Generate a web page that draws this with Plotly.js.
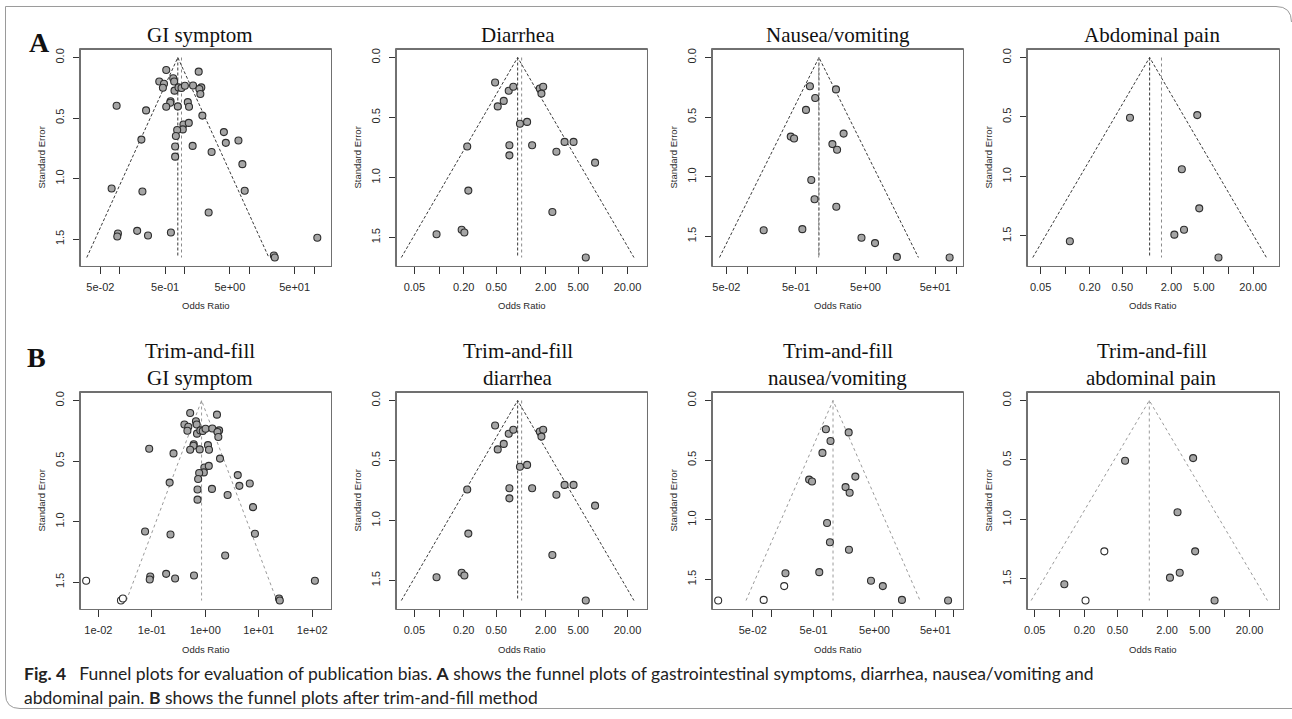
<!DOCTYPE html>
<html><head><meta charset="utf-8">
<script src="https://cdn.plot.ly/plotly-3.0.1.min.js"></script>
<style>html,body{margin:0;padding:0;background:#fff}#chart{width:1292px;height:719px}</style>
</head><body><div id="chart"></div>
<script>
// ---------------- data ----------------
const giOR = [0.520,1.65,0.667,0.690,0.406,0.480,0.462,0.698,0.805,0.895,1.01,1.35,1.81,1.69,1.75,0.607,0.600,0.520,0.785,1.12,1.17,0.0891,0.254,1.88,0.959,1.16,0.937,0.767,0.733,0.215,4.04,4.33,6.78,0.714,1.33,0.714,2.61,7.80,0.0746,0.223,8.47,2.35,0.0933,0.0912,0.185,0.272,0.614,112,23.9,24.7];
const giSE = [0.103,0.117,0.171,0.198,0.198,0.217,0.250,0.274,0.247,0.252,0.233,0.231,0.247,0.260,0.301,0.361,0.374,0.407,0.404,0.369,0.407,0.399,0.437,0.480,0.553,0.540,0.594,0.599,0.648,0.678,0.616,0.705,0.686,0.735,0.730,0.819,0.781,0.881,1.082,1.107,1.101,1.280,1.454,1.478,1.432,1.470,1.446,1.489,1.635,1.652];
const giFillOR = [0.0059,0.0264,0.0287];
const giFillSE = [1.489,1.652,1.635];

const diarOR = [0.484,0.710,0.807,0.617,0.521,1.70,1.87,1.78,0.973,1.19,0.723,0.723,1.37,3.41,4.39,2.71,8.04,0.221,0.228,2.42,0.0933,0.189,0.204,6.19];
const diarSE = [0.208,0.277,0.244,0.362,0.408,0.258,0.244,0.301,0.553,0.537,0.732,0.816,0.732,0.704,0.704,0.786,0.877,0.742,1.110,1.288,1.474,1.436,1.460,1.668];

const nauOR = [0.794,1.88,0.946,0.697,0.421,0.470,2.42,1.67,1.95,0.830,0.925,1.90,0.172,0.618,4.37,6.84,14.1,80.7];
const nauSE = [0.241,0.268,0.340,0.440,0.664,0.680,0.639,0.727,0.774,1.029,1.190,1.253,1.450,1.441,1.513,1.558,1.674,1.679];
const nauFillOR = [0.0135,0.0755,0.164];
const nauFillSE = [1.679,1.674,1.558];

const abdOR = [0.621,4.14,2.68,4.38,2.85,2.17,0.114,7.53];
const abdSE = [0.506,0.484,0.939,1.268,1.448,1.489,1.545,1.681];
const abdFillOR = [0.348,0.206];
const abdFillSE = [1.268,1.681];

// pooled estimates (fixed / random / trim-and-fill) and largest SE
const giEst   = {fixed:0.785, random:0.895, tf:0.85, seMax:1.652};
const diarEst = {fixed:0.912, random:1.02, seMax:1.668};
const nauEst  = {fixed:1.07, random:1.06, tf:1.04, seMax:1.679};
const abdEst  = {fixed:1.08, random:1.51, tf:1.22, seMax:1.681};

// tick labels
const ticksExp5 = [0.05,0.1,0.5,1,5,10,50,100];
const textExp5  = ['5e-02','','5e-01','','5e+00','','5e+01',''];
const ticksDec  = [0.05,0.1,0.2,0.5,1,2,5,10,20];
const textDec   = ['0.05','','0.20','0.50','','2.00','5.00','','20.00'];
const ticksPow  = [0.01,0.1,1,10,100];
const textPow   = ['1e-02','1e-01','1e+00','1e+01','1e+02'];
const seTicks   = [0,0.5,1,1.5];
const seText    = ['0.0','0.5','1.0','1.5'];

const titlesA = ['GI symptom','Diarrhea','Nausea/vomiting','Abdominal pain'];
const titlesB = ['GI symptom','diarrhea','nausea/vomiting','abdominal pain'];

// ---------------- layout geometry ----------------
const W = 1292, H = 719;
const colL = [79.5, 395.5, 711.5, 1026.5];
const colR = [331.5, 647.5, 963.5, 1279.5];
const rowT = [48.5, 391.5];
const rowB = [266.5, 609.5];
const titleX = [200, 517.5, 837.5, 1151.5];

const panels = [
  {col:0,row:0,title:[titlesA[0]],or:giOR,se:giSE,fo:[],fs:[],est:giEst,mode:'two',xr:[-1.608,2.253],tv:ticksExp5,tt:textExp5},
  {col:1,row:0,title:[titlesA[1]],or:diarOR,se:diarSE,fo:[],fs:[],est:diarEst,mode:'two',xr:[-1.519,1.533],tv:ticksDec,tt:textDec},
  {col:2,row:0,title:[titlesA[2]],or:nauOR,se:nauSE,fo:[],fs:[],est:nauEst,mode:'two',xr:[-1.500,2.092],tv:ticksExp5,tt:textExp5},
  {col:3,row:0,title:[titlesA[3]],or:abdOR,se:abdSE,fo:[],fs:[],est:abdEst,mode:'two',xr:[-1.462,1.612],tv:ticksDec,tt:textDec},
  {col:0,row:1,title:['Trim-and-fill',titlesB[0]],or:giOR,se:giSE,fo:giFillOR,fs:giFillSE,est:giEst,mode:'tf',xr:[-2.335,2.341],tv:ticksPow,tt:textPow},
  {col:1,row:1,title:['Trim-and-fill',titlesB[1]],or:diarOR,se:diarSE,fo:[],fs:[],est:diarEst,mode:'two',xr:[-1.519,1.533],tv:ticksDec,tt:textDec},
  {col:2,row:1,title:['Trim-and-fill',titlesB[2]],or:nauOR,se:nauSE,fo:nauFillOR,fs:nauFillSE,est:nauEst,mode:'tf',xr:[-1.963,2.144],tv:ticksExp5,tt:textExp5},
  {col:3,row:1,title:['Trim-and-fill',titlesB[3]],or:abdOR,se:abdSE,fo:abdFillOR,fs:abdFillSE,est:abdEst,mode:'tf',xr:[-1.389,1.651],tv:ticksDec,tt:textDec}
];

const px = x => x / W;
const py = y => 1 - y / H;
const P = (x, y) => px(x).toFixed(5) + ',' + py(y).toFixed(5);

const traces = [];
const layout = {
  width: W, height: H,
  margin: {l:0, r:0, t:0, b:0},
  paper_bgcolor: '#ffffff', plot_bgcolor: 'rgba(0,0,0,0)',
  showlegend: false,
  shapes: [], annotations: []
};

const darkLine = '#3a3a3a', lightLine = '#9a9a9a';

panels.forEach((p, i) => {
  const n = i + 1;
  const xa = 'x' + (n === 1 ? '' : n), ya = 'y' + (n === 1 ? '' : n);
  const L = colL[p.col], R = colR[p.col], T = rowT[p.row], B = rowB[p.row];
  const m = p.est.seMax;

  const common = {
    ticks: 'outside', ticklen: 7, tickwidth: 1, tickcolor: '#333',
    showline: true, mirror: true, linecolor: '#707070', linewidth: 1,
    showgrid: false, zeroline: false,
    tickfont: {family: 'Liberation Sans, Arial, sans-serif', size: 11, color: '#2a2a2a'},
    fixedrange: true
  };
  layout['xaxis' + (n === 1 ? '' : n)] = Object.assign({
    type: 'log', domain: [px(L + 1), px(R - 1)], range: p.xr, anchor: ya,
    tickmode: 'array', tickvals: p.tv, ticktext: p.tt, ticklabelstandoff: 4
  }, common);
  layout['yaxis' + (n === 1 ? '' : n)] = Object.assign({
    domain: [py(B - 1), py(T + 1)], range: [1.04 * m, -0.04 * m], anchor: xa,
    tickmode: 'array', tickvals: seTicks, ticktext: seText, tickangle: -90, ticklabelstandoff: 4
  }, common);

  // plot frame drawn just outside the plotting area, on top of everything
  layout.shapes.push({type:'path', xref:'paper', yref:'paper', layer:'above',
    path:'M' + P(L, T) + ' L' + P(R, T) + ' L' + P(R, B) + ' L' + P(L, B) + ' Z',
    line:{color:'#707070', width:1}});

  // funnel + reference lines
  const c = p.mode === 'tf' ? p.est.tf : p.est.fixed;
  const k = Math.exp(1.96 * m);
  const fColor = p.mode === 'tf' ? lightLine : darkLine;
  traces.push({type:'scatter', mode:'lines', xaxis:xa, yaxis:ya, hoverinfo:'skip',
    x:[c / k, c, c * k], y:[m, 0, m],
    line:{color:fColor, width:1, dash: p.mode === 'tf' ? 'dot' : '3px,2px'}});
  if (p.mode === 'tf') {
    traces.push({type:'scatter', mode:'lines', xaxis:xa, yaxis:ya, hoverinfo:'skip',
      x:[p.est.tf, p.est.tf], y:[0, m], line:{color:lightLine, width:1, dash:'dot'}});
  } else {
    traces.push({type:'scatter', mode:'lines', xaxis:xa, yaxis:ya, hoverinfo:'skip',
      x:[p.est.fixed, p.est.fixed], y:[0, m], line:{color:darkLine, width:1, dash:'3px,2px'}});
    traces.push({type:'scatter', mode:'lines', xaxis:xa, yaxis:ya, hoverinfo:'skip',
      x:[p.est.random, p.est.random], y:[0, m], line:{color:'#8a8a8a', width:1, dash:'dot'}});
  }
  // studies
  traces.push({type:'scatter', mode:'markers', xaxis:xa, yaxis:ya,
    x:p.or, y:p.se,
    marker:{symbol:'circle', size:7, color:'#a5a5a5', line:{color:'#2e2e2e', width:1.1}}});
  if (p.fo.length) {
    traces.push({type:'scatter', mode:'markers', xaxis:xa, yaxis:ya,
      x:p.fo, y:p.fs,
      marker:{symbol:'circle', size:7, color:'#ffffff', line:{color:'#2e2e2e', width:1.1}}});
  }

  // titles
  const tFont = {family:'Liberation Serif, Times New Roman, serif', size:21, color:'#111'};
  if (p.title.length === 1) {
    layout.annotations.push({xref:'paper', yref:'paper', x:px(titleX[p.col]), y:py(34.5),
      xanchor:'center', yanchor:'middle', showarrow:false, text:p.title[0], font:tFont});
  } else {
    layout.annotations.push({xref:'paper', yref:'paper', x:px(titleX[p.col]), y:py(351),
      xanchor:'center', yanchor:'middle', showarrow:false, text:p.title[0], font:tFont});
    layout.annotations.push({xref:'paper', yref:'paper', x:px(titleX[p.col]), y:py(378),
      xanchor:'center', yanchor:'middle', showarrow:false, text:p.title[1], font:tFont});
  }
  // axis titles
  const smallFont = {family:'Liberation Sans, Arial, sans-serif', size:9.5, color:'#2a2a2a'};
  layout.annotations.push({xref:'paper', yref:'paper', x:px(L - 38.5), y:py((T + B) / 2),
    xanchor:'center', yanchor:'middle', showarrow:false, textangle:-90, text:'Standard Error', font:smallFont});
  layout.annotations.push({xref:'paper', yref:'paper', x:px((L + R) / 2), y:py(B + 39.5),
    xanchor:'center', yanchor:'middle', showarrow:false, text:'Odds Ratio', font:smallFont});
});

// panel letters
const letterFont = {family:'Liberation Serif, Times New Roman, serif', size:28, color:'#111'};
layout.annotations.push({xref:'paper', yref:'paper', x:px(39), y:py(42.5), xanchor:'center', yanchor:'middle',
  showarrow:false, text:'<b>A</b>', font:letterFont});
layout.annotations.push({xref:'paper', yref:'paper', x:px(36.5), y:py(357.5), xanchor:'center', yanchor:'middle',
  showarrow:false, text:'<b>B</b>', font:letterFont});

// caption
const capFont = {family:'Lato, Open Sans, sans-serif', size:17.5, color:'#222'};
layout.annotations.push({xref:'paper', yref:'paper', x:px(22), y:py(673), xanchor:'left', yanchor:'middle',
  showarrow:false, font:capFont,
  text:'<b>Fig. 4</b>\u2002 Funnel plots for evaluation of publication bias. <b>A</b> shows the funnel plots of gastrointestinal symptoms, diarrhea, nausea/vomiting and'});
layout.annotations.push({xref:'paper', yref:'paper', x:px(22), y:py(697), xanchor:'left', yanchor:'middle',
  showarrow:false, font:capFont,
  text:'abdominal pain. <b>B</b> shows the funnel plots after trim-and-fill method'});

// outer figure border (rounded top-right and bottom-left corners)
layout.shapes.push({type:'path', xref:'paper', yref:'paper', layer:'below',
  path:'M' + P(1291.5, 22) + ' Q' + P(1291.5, 6.5) + ' ' + P(1276, 6.5) + ' L' + P(5.5, 6.5) +
       ' L' + P(5.5, 694) + ' Q' + P(5.5, 708.5) + ' ' + P(20, 708.5) + ' L' + P(1292, 708.5),
  line:{color:'#9a9a9a', width:1}});

Plotly.newPlot('chart', traces, layout, {displayModeBar:false, staticPlot:true});
</script>
</body></html>
